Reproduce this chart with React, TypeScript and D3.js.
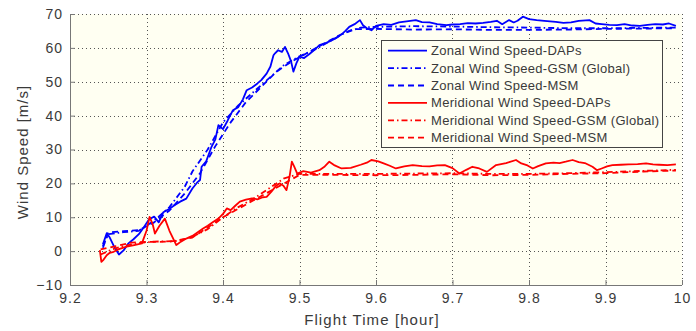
import { useEffect, useRef } from "react";
import * as d3 from "d3";

// Zonal wind speed (blue)
const zonalDapsT = [9.243, 9.248, 9.252, 9.258, 9.264, 9.27, 9.276, 9.283, 9.29, 9.297, 9.303, 9.31, 9.316, 9.322, 9.33, 9.337, 9.344, 9.352, 9.36, 9.366, 9.37, 9.372, 9.378, 9.385, 9.39, 9.394, 9.4, 9.406, 9.413, 9.42, 9.426, 9.431, 9.438, 9.445, 9.45, 9.457, 9.462, 9.466, 9.468, 9.472, 9.477, 9.481, 9.485, 9.489, 9.492, 9.496, 9.5, 9.506, 9.513, 9.52, 9.526, 9.533, 9.54, 9.547, 9.555, 9.56, 9.565, 9.572, 9.579, 9.583, 9.588, 9.594, 9.6, 9.61, 9.62, 9.63, 9.64, 9.652, 9.66, 9.67, 9.68, 9.692, 9.7, 9.71, 9.72, 9.73, 9.74, 9.75, 9.758, 9.765, 9.774, 9.78, 9.785, 9.792, 9.8, 9.81, 9.82, 9.835, 9.845, 9.855, 9.865, 9.879, 9.887, 9.895, 9.905, 9.915, 9.925, 9.935, 9.945, 9.955, 9.965, 9.975, 9.983, 9.992];
const zonalDapsV = [2, 5.3, 4, 1.2, -1, 0.2, 2.2, 3.5, 5, 7.2, 9.3, 10.2, 8.5, 11.5, 12.5, 13.6, 14.6, 15.5, 18.5, 20.2, 21, 24.9, 26.5, 30.8, 33, 37.2, 36, 38.5, 41.6, 42.5, 44.8, 47.5, 48.3, 49.5, 50.5, 52.4, 54.5, 57.8, 58.4, 59.3, 58.8, 60.3, 58.4, 56, 53, 55.5, 57.4, 57, 58.2, 59.5, 60.8, 61.3, 62, 62.8, 64, 65, 66.2, 67, 68.2, 66.7, 65.8, 65.2, 66.5, 67, 66.8, 67.5, 67.8, 68.2, 67.6, 67.5, 67, 66.7, 66.9, 67, 67.3, 67.2, 67.4, 67.7, 68, 67, 68.2, 67.5, 68, 69.2, 68.5, 68.2, 68, 67.7, 67.4, 67.5, 68, 68.2, 67.2, 67, 66.8, 66.7, 67, 66.6, 66.5, 66.8, 67, 66.9, 67.2, 66.5];
const zonalGsmT = [9.243, 9.25, 9.27, 9.29, 9.31, 9.33, 9.35, 9.36, 9.38, 9.4, 9.42, 9.44, 9.46, 9.48, 9.5, 9.52, 9.54, 9.56, 9.58, 9.6, 9.65, 9.7, 9.75, 9.8, 9.85, 9.9, 9.95, 9.992];
const zonalGsmV = [1.5, 5, 5.6, 6, 9, 13, 19, 23.5, 30, 38, 43, 47, 51, 55, 57.5, 59.5, 62, 64.5, 66, 66.2, 66.4, 66.3, 66.1, 66, 65.8, 65.8, 65.9, 66];
const zonalMsmT = [9.243, 9.25, 9.27, 9.29, 9.31, 9.33, 9.35, 9.37, 9.39, 9.41, 9.43, 9.45, 9.47, 9.49, 9.51, 9.53, 9.55, 9.57, 9.6, 9.65, 9.7, 9.75, 9.8, 9.85, 9.9, 9.95, 9.992];
const zonalMsmV = [1, 5.5, 5.9, 6.2, 8.5, 12, 17, 23, 31, 38, 44, 48.5, 53, 56, 58.5, 61, 63.5, 65.5, 65.6, 65.4, 65.5, 65.3, 65.3, 65.4, 65.6, 65.7, 65.8];

// Meridional wind speed (red)
const meridDapsT = [9.239, 9.241, 9.244, 9.248, 9.252, 9.257, 9.264, 9.274, 9.284, 9.294, 9.3, 9.304, 9.308, 9.311, 9.317, 9.324, 9.33, 9.339, 9.345, 9.352, 9.36, 9.367, 9.374, 9.38, 9.387, 9.394, 9.4, 9.405, 9.41, 9.416, 9.422, 9.43, 9.438, 9.445, 9.452, 9.457, 9.463, 9.469, 9.474, 9.479, 9.483, 9.487, 9.49, 9.493, 9.497, 9.505, 9.515, 9.526, 9.533, 9.539, 9.546, 9.555, 9.567, 9.58, 9.588, 9.594, 9.603, 9.61, 9.618, 9.626, 9.637, 9.648, 9.66, 9.67, 9.68, 9.69, 9.7, 9.709, 9.718, 9.726, 9.735, 9.745, 9.757, 9.77, 9.783, 9.79, 9.798, 9.805, 9.812, 9.822, 9.832, 9.84, 9.848, 9.857, 9.865, 9.873, 9.883, 9.889, 9.895, 9.902, 9.909, 9.92, 9.93, 9.942, 9.953, 9.962, 9.97, 9.981, 9.992];
const meridDapsV = [0.3, -3.2, -2.5, -1.2, -0.5, -0.2, 0.6, 1.3, 1.8, 2.3, 6, 10.1, 8, 5.2, 7.5, 9.6, 6, 1.8, 2.8, 3.7, 4.5, 5.6, 6.7, 7.5, 8.6, 9.6, 11, 12.6, 12.1, 13.4, 14.6, 15.2, 15.6, 15.3, 15.9, 16, 17.5, 19.2, 20, 19.3, 18, 22, 26.4, 25, 22.9, 23.6, 23.2, 23.9, 25, 26.4, 25.3, 24.4, 24.6, 25.5, 26.1, 26.9, 26.5, 25.9, 25.2, 24.4, 25, 25.4, 25.1, 25, 25.3, 25.4, 24.5, 22.9, 24, 24.9, 24.4, 23.4, 25.4, 26, 26.9, 25.9, 25.3, 24.4, 25.1, 25.9, 26.1, 26, 26.4, 26.9, 26.3, 26, 24.9, 23.9, 24.4, 25, 25.4, 25.5, 25.6, 25.7, 25.9, 25.6, 25.5, 25.4, 25.6];
const meridGsmT = [9.24, 9.255, 9.27, 9.29, 9.31, 9.34, 9.36, 9.38, 9.4, 9.42, 9.44, 9.46, 9.48, 9.5, 9.55, 9.6, 9.65, 9.7, 9.75, 9.8, 9.85, 9.9, 9.95, 9.992];
const meridGsmV = [-1, 0.5, 1.5, 2.4, 2.8, 3, 4.2, 6.5, 10, 13, 15.5, 18.5, 21.5, 22.8, 22.8, 22.8, 22.9, 23, 22.8, 22.8, 23, 23.3, 23.7, 24];
const meridMsmT = [9.24, 9.26, 9.28, 9.3, 9.33, 9.36, 9.38, 9.4, 9.42, 9.44, 9.46, 9.48, 9.5, 9.55, 9.6, 9.65, 9.7, 9.75, 9.8, 9.85, 9.9, 9.95, 9.992];
const meridMsmV = [0.5, 1.5, 2.5, 2.7, 2.8, 4, 7, 10, 12.5, 15, 17.5, 20, 22.5, 22.5, 22.4, 22.5, 22.7, 22.4, 22.5, 22.8, 23, 23.5, 23.8];

const xTicks = [9.2, 9.3, 9.4, 9.5, 9.6, 9.7, 9.8, 9.9, 10];
const yTicks = [-10, 0, 10, 20, 30, 40, 50, 60, 70];

const seriesNames = [
  "Zonal Wind Speed-DAPs",
  "Zonal Wind Speed-GSM (Global)",
  "Zonal Wind Speed-MSM",
  "Meridional Wind Speed-DAPs",
  "Meridional Wind Speed-GSM (Global)",
  "Meridional Wind Speed-MSM",
];

export default function App() {
  const svgRef = useRef<SVGSVGElement>(null);

  useEffect(() => {
    if (!svgRef.current) return;
    const svg = d3.select(svgRef.current);
    svg.selectAll("*").remove();

    const left = 70, right = 682, top = 14, bottom = 285;
    const x = d3.scaleLinear().domain([9.2, 10]).range([left, right]);
    const y = d3.scaleLinear().domain([-10, 70]).range([bottom, top]);
    const font = "'Liberation Sans', Arial, sans-serif";
    const textColor = "#3a3a3a";

    svg.append("rect")
      .attr("x", left).attr("y", top)
      .attr("width", right - left).attr("height", bottom - top)
      .attr("fill", "#fffff2");

    // dotted grid
    const grid = svg.append("g").attr("stroke", "#555").attr("stroke-width", 1)
      .attr("stroke-dasharray", "1,3").attr("shape-rendering", "crispEdges");
    grid.selectAll("line.h").data(yTicks.filter((d) => d > -10)).join("line")
      .attr("x1", left).attr("x2", right)
      .attr("y1", (d) => Math.round(y(d)) + 0.5).attr("y2", (d) => Math.round(y(d)) + 0.5);
    grid.selectAll("line.v").data(xTicks.filter((d) => d > 9.2)).join("line")
      .attr("class", "v")
      .attr("y1", top).attr("y2", bottom)
      .attr("x1", (d) => Math.round(x(d)) + 0.5).attr("x2", (d) => Math.round(x(d)) + 0.5);

    const styleAxis = (g: d3.Selection<SVGGElement, unknown, null, undefined>) => {
      g.select(".domain").attr("stroke", "#777");
      g.selectAll(".tick line").attr("stroke", "#777");
      g.selectAll(".tick text").attr("fill", textColor).attr("font-size", "14px")
        .attr("font-family", font).attr("letter-spacing", "1px");
    };

    svg.append("g")
      .attr("transform", `translate(0,${bottom})`)
      .call(d3.axisBottom(x).tickValues(xTicks).tickSize(-5).tickSizeOuter(0).tickPadding(8)
        .tickFormat((d) => String(d)))
      .call(styleAxis)
      .call((g) => g.select(".domain").attr("d", `M${left},0.5H${right}`));

    svg.append("g")
      .attr("transform", `translate(${left},0)`)
      .call(d3.axisLeft(y).tickValues(yTicks).tickSize(-5).tickSizeOuter(0).tickPadding(7)
        .tickFormat((d) => (Number(d) < 0 ? "\u2212" + Math.abs(Number(d)) : String(d))))
      .call(styleAxis)
      .call((g) => g.select(".domain").attr("d", `M0.5,${top}V${bottom}`));

    svg.append("text")
      .attr("x", 372).attr("y", 325)
      .attr("text-anchor", "middle")
      .attr("font-family", font).attr("font-size", "15px").attr("fill", textColor)
      .attr("letter-spacing", "1.1px")
      .text("Flight Time [hour]");

    svg.append("text")
      .attr("transform", "translate(28,152) rotate(-90)")
      .attr("text-anchor", "middle")
      .attr("font-family", font).attr("font-size", "15px").attr("fill", textColor)
      .attr("letter-spacing", "1px")
      .text("Wind Speed [m/s]");

    const line = d3.line<[number, number]>().x((d) => x(d[0])).y((d) => y(d[1]));
    const zip = (t: number[], v: number[]) => t.map((ti, i) => [ti, v[i]] as [number, number]);

    const dashes = ["", "6,3,1.5,3", "6,4"];
    const series = [
      { t: zonalDapsT, v: zonalDapsV, color: "#0000ff", dash: dashes[0] },
      { t: zonalGsmT, v: zonalGsmV, color: "#0000ff", dash: dashes[1] },
      { t: zonalMsmT, v: zonalMsmV, color: "#0000ff", dash: dashes[2] },
      { t: meridDapsT, v: meridDapsV, color: "#ff0000", dash: dashes[0] },
      { t: meridGsmT, v: meridGsmV, color: "#ff0000", dash: dashes[1] },
      { t: meridMsmT, v: meridMsmV, color: "#ff0000", dash: dashes[2] },
    ];

    const plot = svg.append("g");
    series.forEach((s) => {
      plot.append("path")
        .datum(zip(s.t, s.v))
        .attr("d", line)
        .attr("fill", "none")
        .attr("stroke", s.color)
        .attr("stroke-width", 1.8)
        .attr("stroke-linejoin", "round")
        .attr("stroke-dasharray", s.dash || null);
    });

    // legend
    const lg = svg.append("g");
    lg.append("rect")
      .attr("x", 381.5).attr("y", 40.5).attr("width", 281).attr("height", 107)
      .attr("fill", "#fffff2").attr("stroke", "#444").attr("stroke-width", 1);
    seriesNames.forEach((name, i) => {
      const ry = 50.7 + i * 17.4;
      lg.append("line")
        .attr("x1", 388).attr("x2", 427).attr("y1", ry).attr("y2", ry)
        .attr("stroke", series[i].color).attr("stroke-width", 1.8)
        .attr("stroke-dasharray", series[i].dash || null);
      lg.append("text")
        .attr("x", 431).attr("y", ry + 4.5)
        .attr("font-family", font).attr("font-size", "13px").attr("fill", textColor)
        .attr("letter-spacing", "0.3px")
        .text(name);
    });
  }, []);

  return (
    <div style={{ position: "fixed", left: 0, top: 0 }}>
      <svg ref={svgRef} width={696} height={331} style={{ display: "block", background: "#fff" }} />
    </div>
  );
}
